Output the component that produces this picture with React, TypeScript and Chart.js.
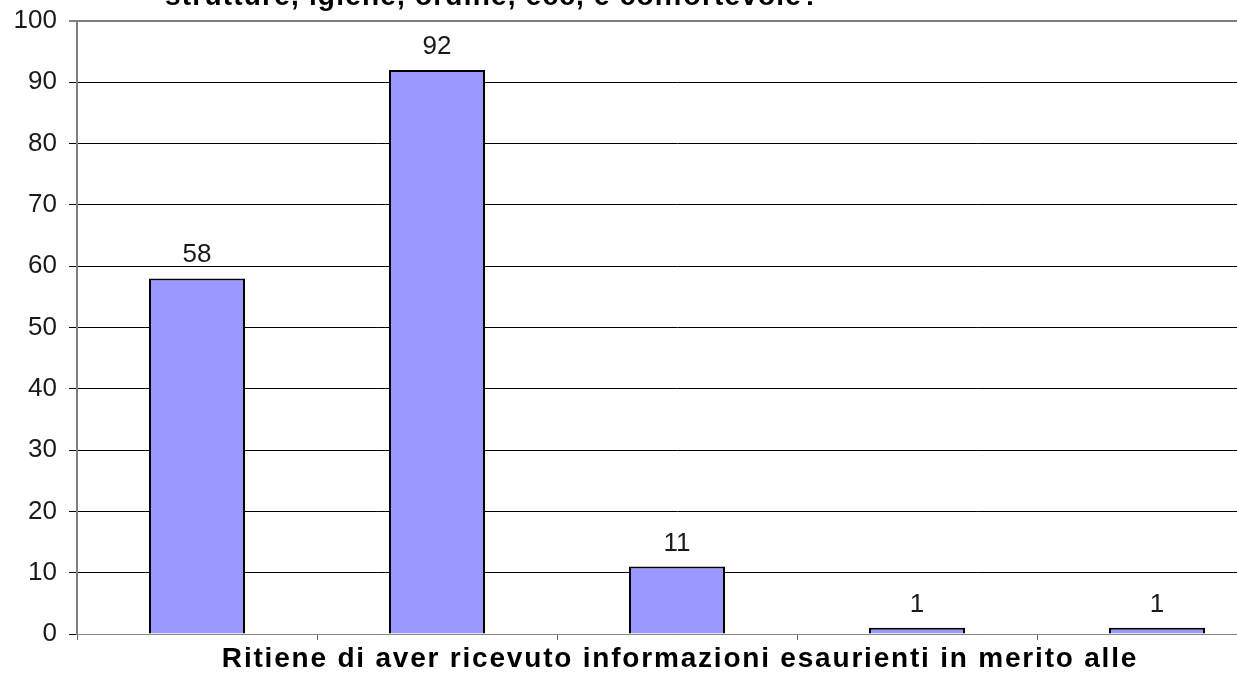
import React, { useEffect, useRef } from "react";
import { Chart, registerables } from "chart.js";

Chart.register(...registerables);

const categories = ["A", "B", "C", "D", "E"];
const values = [58, 92, 11, 1, 1];
const yTicks = [0, 10, 20, 30, 40, 50, 60, 70, 80, 90, 100];
const titleText = "strutture, igiene, ordine, ecc, è confortevole?";
const xTitleText = "Ritiene di aver ricevuto informazioni esaurienti in merito alle";

const FONT = "'Liberation Sans', Arial, sans-serif";

const overlayPlugin = {
  id: "overlay",
  afterDatasetsDraw(chart: any) {
    const ctx = chart.ctx;
    const area = chart.chartArea;
    ctx.save();
    // value labels
    ctx.font = `26px ${FONT}`;
    ctx.fillStyle = "#1a1a1a";
    ctx.textAlign = "center";
    ctx.textBaseline = "alphabetic";
    const meta = chart.getDatasetMeta(0);
    meta.data.forEach((el: any, i: number) => {
      ctx.fillText(String(values[i]), el.x, el.y - 16);
    });
    // titles
    ctx.font = `bold 28px ${FONT}`;
    ctx.fillStyle = "#000";
    ctx.textAlign = "left";
    ctx.letterSpacing = "1.2px";
    ctx.fillText(titleText, area.left + 88, area.top - 16);
    ctx.textAlign = "center";
    ctx.letterSpacing = "1.8px";
    ctx.fillText(xTitleText, (area.left + area.right) / 2 + 3, area.bottom + 33);
    ctx.restore();
  },
};

export default function App() {
  const ref = useRef<HTMLCanvasElement | null>(null);
  useEffect(() => {
    if (!ref.current) return;
    const chart = new Chart(ref.current, {
      type: "bar",
      data: {
        labels: categories,
        datasets: [
          {
            data: values,
            backgroundColor: "#9999FF",
            borderColor: "#000000",
            borderWidth: 2,
            barPercentage: 0.4,
            categoryPercentage: 1,
          },
        ],
      },
      options: {
        responsive: false,
        animation: false,
        devicePixelRatio: 1,
        layout: { padding: { top: 21, right: 3, left: 0, bottom: 0 } },
        plugins: {
          legend: { display: false },
          title: { display: false },
          tooltip: { enabled: false },
        },
        scales: {
          x: {
            offset: true,
            grid: {
              offset: true,
              drawOnChartArea: false,
              drawTicks: true,
              tickLength: 6,
              color: "#666",
            },
            border: { display: true, color: "#888", width: 1, dash: [2, 2] },
            ticks: { display: false },
            afterFit: (scale: any) => {
              scale.height = 41;
              scale.paddingLeft = 0;
              scale.paddingRight = 0;
            },
          },
          y: {
            min: 0,
            max: 100,
            afterBuildTicks: (scale: any) => {
              scale.ticks = yTicks.map((v) => ({ value: v }));
            },
            ticks: {
              stepSize: 10,
              padding: 12,
              color: "#1a1a1a",
              font: { family: FONT, size: 26 },
            },
            grid: {
              tickLength: 8,
              color: (c: any) => (c.tick && c.tick.value === 100 ? "#808080" : "#000000"),
              lineWidth: (c: any) => (c.tick && c.tick.value === 100 ? 2 : 1),
            },
            border: { display: true, color: "#808080", width: 2 },
            afterFit: (scale: any) => {
              scale.width = 77;
              scale.paddingTop = 0;
              scale.paddingBottom = 0;
            },
          },
        },
      },
      plugins: [overlayPlugin],
    } as any);
    return () => chart.destroy();
  }, []);

  return (
    <div
      style={{
        position: "fixed",
        left: 0,
        top: 0,
        width: 1237,
        height: 675,
        overflow: "hidden",
        background: "#fff",
      }}
    >
      <canvas ref={ref} width={1280} height={675} style={{ display: "block" }} />
    </div>
  );
}
